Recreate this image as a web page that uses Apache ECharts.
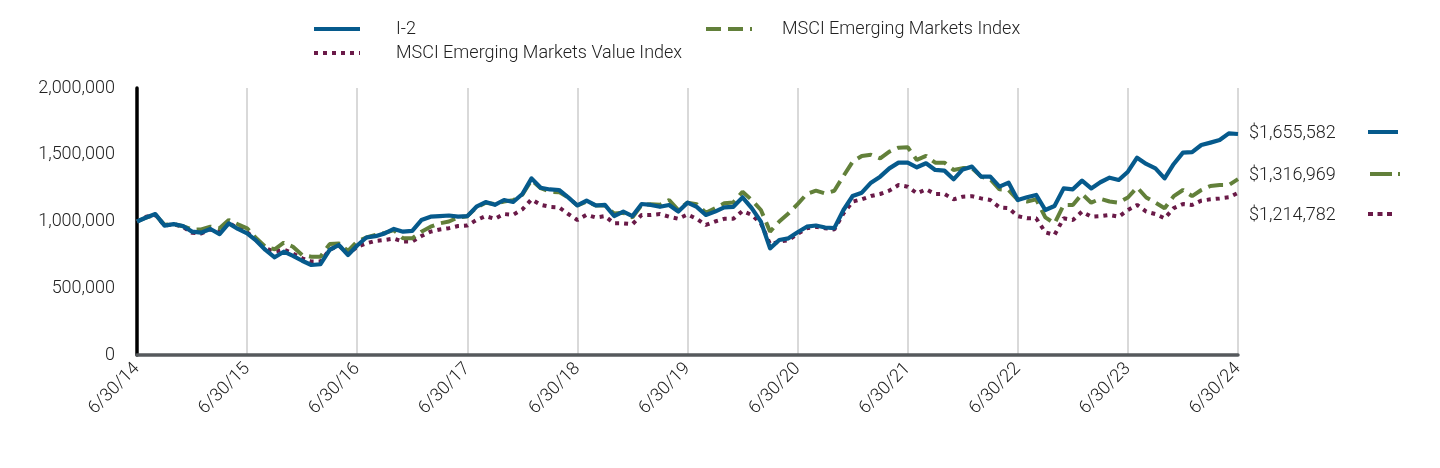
<!DOCTYPE html>
<html><head><meta charset="utf-8">
<script src="https://cdn.jsdelivr.net/npm/echarts@6/dist/echarts.min.js"></script>
<style>html,body{margin:0;padding:0;background:#fff}#c{width:1440px;height:468px}</style>
</head><body><div id="c"></div>
<script>
const seriesNames = ['I-2', 'MSCI Emerging Markets Index', 'MSCI Emerging Markets Value Index'];
const endValueLabels = ['$1,655,582', '$1,316,969', '$1,214,782'];
const yTicks = [0, 500000, 1000000, 1500000, 2000000];

// values in thousands of dollars, monthly 6/30/14 .. 6/30/24
const i2 = [
1000,1030,1056,969,980,966,924,917,944,906,986,944,
911,856,787,732,774,742,706,674,680,787,824,749,
820,880,890,911,944,924,930,1011,1036,1040,1045,1036,
1040,1111,1146,1125,1161,1146,1206,1323,1253,1240,1236,1181,
1120,1156,1120,1124,1041,1074,1041,1131,1124,1110,1124,1074,
1141,1110,1049,1074,1106,1110,1181,1100,999,799,861,874,
920,961,970,955,950,1086,1191,1216,1291,1336,1398,1441,
1441,1406,1436,1386,1381,1316,1390,1411,1336,1336,1261,1291,
1161,1181,1199,1086,1116,1248,1241,1306,1248,1294,1328,1311,
1373,1478,1431,1398,1323,1431,1516,1520,1573,1591,1610,1660,
1655.582];
const msciEM = [
1000,1030,1050,975,980,965,941,941,961,950,1011,979,
949,874,811,792,841,811,749,736,736,831,836,780,
850,880,900,915,935,874,874,924,961,986,1000,1030,
1040,1105,1140,1130,1150,1160,1200,1310,1250,1223,1220,1180,
1120,1150,1120,1120,1060,1065,1031,1124,1130,1125,1161,1086,
1141,1130,1065,1100,1136,1143,1223,1161,1086,924,1000,1060,
1130,1206,1231,1210,1230,1341,1448,1491,1500,1473,1523,1553,
1556,1461,1491,1441,1441,1386,1400,1400,1336,1316,1241,1236,
1161,1150,1166,1031,986,1124,1124,1206,1141,1170,1150,1141,
1180,1256,1180,1141,1099,1190,1236,1190,1236,1266,1273,1273,
1316.969];
const msciEMValue = [
1000,1035,1050,970,980,960,915,910,940,920,990,950,
920,860,800,774,790,760,724,700,700,790,820,760,
810,836,855,862,872,850,850,891,924,940,950,966,
970,1011,1040,1020,1056,1050,1091,1166,1125,1110,1106,1056,
1011,1050,1030,1040,986,986,980,1049,1049,1056,1036,1020,
1053,1020,974,1000,1020,1020,1079,1049,986,830,849,860,
906,950,960,950,940,1061,1149,1166,1191,1206,1231,1273,
1261,1211,1241,1206,1206,1166,1186,1190,1173,1161,1106,1100,
1040,1024,1024,919,899,1024,1011,1074,1036,1040,1049,1036,
1086,1124,1074,1056,1024,1100,1131,1124,1156,1166,1173,1181,
1214.782];

// month-end category labels
const categories = [];
for (let k = 0; k <= 120; k++) {
  const mi = (5 + k) % 12;
  const yy = 14 + Math.floor((5 + k) / 12);
  const d = new Date(2000 + yy, mi + 1, 0).getDate();
  categories.push((mi + 1) + '/' + d + '/' + yy);
}

const C_BLUE = '#065a8c', C_GREEN = '#62803a', C_PURPLE = '#6a1a48';
const FONT = 'Roboto';
const FW = 300;
const FS = 18;
const TXT = '#222';
const toDollars = a => a.map(v => Math.round(v * 1000));

const chart = echarts.init(document.getElementById('c'), null, {renderer: 'canvas'});
function legendCfg(name, left, top, pad) {
  return {
    data: [name], left: left, top: top, padding: 0,
    itemWidth: 46, itemHeight: 16, orient: 'horizontal', selectedMode: false,
    itemStyle: {opacity: 0},
    lineStyle: {width: 4},
    textStyle: {fontSize: FS, color: TXT, fontFamily: FONT, fontWeight: FW, padding: [0, 0, 0, pad]}
  };
}
chart.setOption({
  animation: false,
  grid: {left: 137, right: 202, top: 88, bottom: 113, containLabel: false},
  legend: [
    legendCfg(seriesNames[0], 312, 20, 31),
    legendCfg(seriesNames[1], 704, 20, 25),
    legendCfg(seriesNames[2], 312, 44, 31)
  ],
  xAxis: {
    type: 'category', data: categories, boundaryGap: false,
    axisLine: {show: true, lineStyle: {color: '#55595c', width: 3.5}},
    axisTick: {show: false},
    axisLabel: {interval: 11, rotate: 45, margin: 11, fontSize: FS, color: TXT, fontFamily: FONT, fontWeight: FW},
    splitLine: {show: true, interval: 11, lineStyle: {color: '#d9d9d9', width: 2}}
  },
  yAxis: {
    type: 'value', min: yTicks[0], max: yTicks[yTicks.length - 1], interval: yTicks[1] - yTicks[0],
    axisLine: {show: true, lineStyle: {color: '#000', width: 3.5}},
    axisTick: {show: false},
    splitLine: {show: false},
    axisLabel: {margin: 22, fontSize: FS, color: TXT, fontFamily: FONT, fontWeight: FW,
      formatter: v => v.toLocaleString('en-US')}
  },
  series: [
    {name: seriesNames[2], type: 'line', data: toDollars(msciEMValue), symbol: 'none', z: 2,
      itemStyle: {color: C_PURPLE},
      lineStyle: {color: C_PURPLE, width: 4, type: [4, 5], cap: 'butt'}},
    {name: seriesNames[1], type: 'line', data: toDollars(msciEM), symbol: 'none', z: 3,
      itemStyle: {color: C_GREEN},
      lineStyle: {color: C_GREEN, width: 4, type: [15, 7], cap: 'butt'}},
    {name: seriesNames[0], type: 'line', data: toDollars(i2), symbol: 'none', z: 4,
      itemStyle: {color: C_BLUE},
      lineStyle: {color: C_BLUE, width: 4.2, cap: 'butt', join: 'round'}}
  ],
  graphic: [
    {type: 'text', x: 1249, y: 133, style: {text: endValueLabels[0], fontSize: FS, fontFamily: FONT, fontWeight: FW, fill: TXT, verticalAlign: 'middle'}},
    {type: 'text', x: 1249, y: 175, style: {text: endValueLabels[1], fontSize: FS, fontFamily: FONT, fontWeight: FW, fill: TXT, verticalAlign: 'middle'}},
    {type: 'text', x: 1249, y: 215, style: {text: endValueLabels[2], fontSize: FS, fontFamily: FONT, fontWeight: FW, fill: TXT, verticalAlign: 'middle'}},
    {type: 'line', shape: {x1: 1368, y1: 132, x2: 1398, y2: 132}, style: {stroke: C_BLUE, lineWidth: 4}},
    {type: 'line', shape: {x1: 1370, y1: 174, x2: 1400, y2: 174}, style: {stroke: C_GREEN, lineWidth: 4, lineDash: [22, 6]}},
    {type: 'line', shape: {x1: 1368, y1: 214, x2: 1394, y2: 214}, style: {stroke: C_PURPLE, lineWidth: 4, lineDash: [5, 4.5]}}
  ]
});
</script>
</body></html>
